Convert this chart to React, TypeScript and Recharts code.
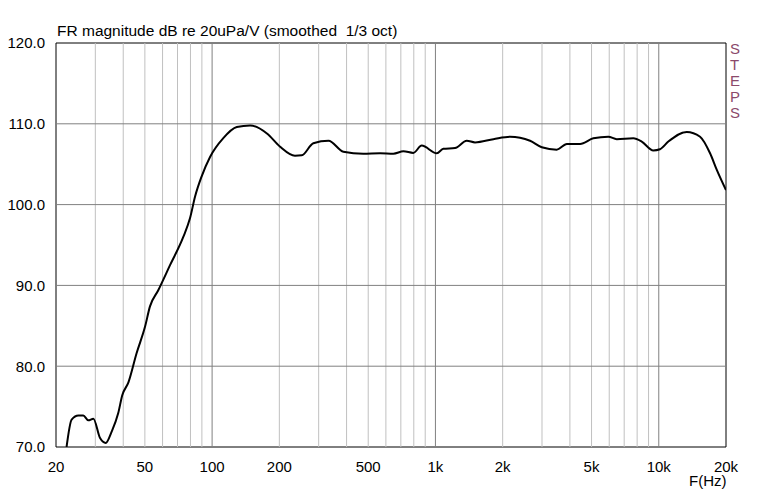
import React from 'react';
import { LineChart, Line, XAxis, YAxis, ReferenceLine, ReferenceArea } from 'recharts';

const freqs = [22.3, 23.5, 25.2, 26.5, 27.9, 29.4, 31.5, 33.4, 35.5, 38.0, 39.6, 42.2, 45.9, 50.1, 52.7, 57.4, 64.8, 74.3, 79.6, 83.9, 89.8, 97.9, 112, 129, 148, 176, 201, 235, 252, 284, 332, 387, 475, 565, 648, 719, 796, 868, 1014, 1085, 1224, 1381, 1504, 1817, 2158, 2653, 2993, 3494, 3875, 4444, 5094, 5945, 6485, 7693, 8390, 9454, 10123, 11036, 13343, 15310, 16970, 18190, 20000];
const levels = [70.0, 73.4, 73.9, 73.9, 73.3, 73.5, 71.1, 70.5, 71.9, 74.2, 76.4, 78.0, 81.6, 84.9, 87.4, 89.4, 92.5, 96.0, 98.3, 101.0, 103.5, 105.9, 108.2, 109.6, 109.8, 108.8, 107.2, 106.05, 106.1, 107.6, 107.9, 106.55, 106.3, 106.35, 106.3, 106.6, 106.4, 107.3, 106.35, 106.9, 107.0, 107.9, 107.7, 108.1, 108.4, 107.9, 107.1, 106.8, 107.5, 107.5, 108.2, 108.4, 108.1, 108.2, 107.8, 106.7, 106.85, 107.8, 109.0, 108.4, 106.35, 104.3, 101.8];

const xTicks = [20, 50, 100, 200, 500, 1000, 2000, 5000, 10000, 20000];
const xTickLabels = ['20', '50', '100', '200', '500', '1k', '2k', '5k', '10k', '20k'];
const yTicks = [70, 80, 90, 100, 110, 120];
const minorGrid = [30, 40, 50, 60, 70, 80, 90, 200, 300, 400, 500, 600, 700, 800, 900, 2000, 3000, 4000, 5000, 6000, 7000, 8000, 9000];
const majorGrid = [100, 1000, 10000];
const hGrid = [80, 90, 100, 110];
const title = 'FR magnitude dB re 20uPa/V (smoothed  1/3 oct)';
const sideLetters = ['S', 'T', 'E', 'P', 'S'];

const data = freqs.map((f, i) => ({ f, db: levels[i] }));

const FONT = '"Liberation Sans", Arial, sans-serif';

export default function App() {
  return (
    <div style={{ position: 'absolute', left: 0, top: 0, width: 773, height: 504, background: '#fff', fontFamily: FONT }}>
      <LineChart width={773} height={504} data={data} margin={{ top: 43, right: 47, bottom: 27, left: 0 }}>
        {minorGrid.map((g) => (
          <ReferenceLine key={'m' + g} x={g} stroke="#c0c0c0" strokeWidth={1} />
        ))}
        {majorGrid.map((g) => (
          <ReferenceLine key={'M' + g} x={g} stroke="#808080" strokeWidth={1} />
        ))}
        {hGrid.map((g) => (
          <ReferenceLine key={'h' + g} y={g} stroke="#808080" strokeWidth={1} />
        ))}
        <XAxis
          dataKey="f"
          type="number"
          scale="log"
          domain={[20, 20000]}
          ticks={xTicks}
          tickFormatter={(v) => xTickLabels[xTicks.indexOf(v)] ?? String(v)}
          tickLine={false}
          axisLine={false}
          height={30}
          tickMargin={8}
          allowDataOverflow
          interval={0}
          tick={{ fill: '#000', fontSize: 15, fontFamily: FONT }}
        />
        <YAxis
          type="number"
          domain={[70, 120]}
          ticks={yTicks}
          tickFormatter={(v) => Number(v).toFixed(1)}
          tickLine={false}
          axisLine={false}
          width={56}
          tickMargin={5}
          allowDataOverflow
          interval={0}
          tick={{ fill: '#000', fontSize: 15, fontFamily: FONT }}
        />
        <ReferenceArea x1={20} x2={20000} y1={70} y2={120} fill="none" stroke="#000" strokeWidth={1} ifOverflow="visible" />
        <Line type="monotone" dataKey="db" stroke="#000" strokeWidth={2} dot={false} isAnimationActive={false} />
      </LineChart>
      <div style={{ position: 'absolute', left: 57, top: 22, fontSize: 15.5, color: '#000', whiteSpace: 'pre', lineHeight: '18px' }}>{title}</div>
      <div style={{ position: 'absolute', left: 689, top: 474, fontSize: 15, color: '#000', lineHeight: '14px' }}>F(Hz)</div>
      {sideLetters.map((c, i) => (
        <div key={i} style={{ position: 'absolute', left: 730, top: 42 + i * 16, fontSize: 15, color: '#8b4a6b', lineHeight: '14px' }}>{c}</div>
      ))}
    </div>
  );
}
